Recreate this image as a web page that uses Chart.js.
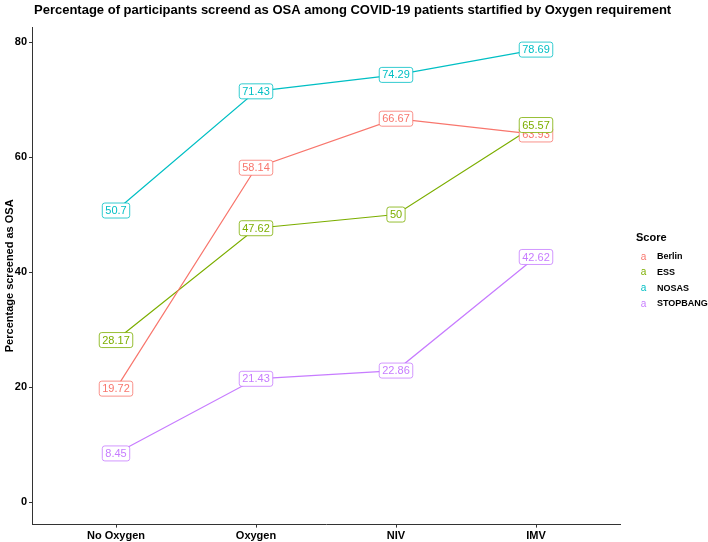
<!DOCTYPE html>
<html>
<head>
<meta charset="utf-8">
<script src="https://cdn.jsdelivr.net/npm/chart.js@4.4.0/dist/chart.umd.min.js"></script>
<style>
  html, body { margin: 0; padding: 0; background: #fff; }
  #wrap { width: 708px; height: 542px; position: relative; }
</style>
</head>
<body>
<div id="wrap"><canvas id="osa-chart"></canvas></div>
<script>
const categories = ["No Oxygen", "Oxygen", "NIV", "IMV"];
const berlin = [19.72, 58.14, 66.67, 63.93];
const ess = [28.17, 47.62, 50, 65.57];
const nosas = [50.7, 71.43, 74.29, 78.69];
const stopbang = [8.45, 21.43, 22.86, 42.62];
const yTicks = [0, 20, 40, 60, 80];

const seriesNames = ["Berlin", "ESS", "NOSAS", "STOPBANG"];
const seriesColors = ["#F8766D", "#7CAE00", "#00BFC4", "#C77CFF"];
const FONT = "'Liberation Sans', Arial, sans-serif";

function toPoints(arr) {
  return arr.map((v, i) => ({ x: i, y: v }));
}

// title drawn at the left edge of the panel like ggplot
const titlePlugin = {
  id: "ggTitle",
  afterDraw(chart) {
    const ctx = chart.ctx;
    ctx.save();
    ctx.font = "bold 13px " + FONT;
    ctx.fillStyle = "#000";
    ctx.textBaseline = "middle";
    ctx.textAlign = "left";
    ctx.fillText("Percentage of participants screend as OSA among COVID-19 patients startified by Oxygen requirement", 34, 10);
    ctx.restore();
  }
};

// geom_label style boxes on every point
const labelPlugin = {
  id: "pointLabels",
  afterDatasetsDraw(chart) {
    const ctx = chart.ctx;
    ctx.save();
    ctx.font = "11px " + FONT;
    ctx.textAlign = "center";
    ctx.textBaseline = "middle";
    chart.data.datasets.forEach((ds, di) => {
      const meta = chart.getDatasetMeta(di);
      meta.data.forEach((pt, i) => {
        const txt = String(ds.data[i].y);
        const w = ctx.measureText(txt).width + 6;
        const h = 15;
        const x = pt.x - w / 2, y = pt.y - h / 2;
        ctx.beginPath();
        ctx.roundRect(x, y, w, h, 2.5);
        ctx.fillStyle = "#fff";
        ctx.fill();
        ctx.lineWidth = 0.8;
        ctx.strokeStyle = ds.borderColor;
        ctx.stroke();
        ctx.fillStyle = ds.borderColor;
        ctx.fillText(txt, pt.x, pt.y + 0.5);
      });
    });
    ctx.restore();
  }
};

const legendPlugin = {
  id: "ggLegend",
  afterDraw(chart) {
    const ctx = chart.ctx;
    ctx.save();
    ctx.textBaseline = "middle";
    ctx.textAlign = "left";
    ctx.font = "bold 11px " + FONT;
    ctx.fillStyle = "#000";
    ctx.fillText("Score", 636, 238);
    chart.data.datasets.forEach((ds, i) => {
      const y = 257 + i * 15.6;
      ctx.font = "10px " + FONT;
      ctx.fillStyle = ds.borderColor;
      ctx.textAlign = "center";
      ctx.fillText("a", 643.5, y);
      ctx.font = "bold 9px " + FONT;
      ctx.fillStyle = "#000";
      ctx.textAlign = "left";
      ctx.fillText(ds.label, 657, y);
    });
    ctx.restore();
  }
};

new Chart(document.getElementById("osa-chart"), {
  type: "line",
  data: {
    datasets: [
      { label: seriesNames[0], data: toPoints(berlin), borderColor: seriesColors[0] },
      { label: seriesNames[1], data: toPoints(ess), borderColor: seriesColors[1] },
      { label: seriesNames[2], data: toPoints(nosas), borderColor: seriesColors[2] },
      { label: seriesNames[3], data: toPoints(stopbang), borderColor: seriesColors[3] },
    ],
  },
  options: {
    responsive: true,
    maintainAspectRatio: false,
    animation: false,
    layout: { padding: { top: 27, right: 88, left: 0, bottom: 0 } },
    elements: {
      line: { borderWidth: 1.2, tension: 0, fill: false },
      point: { radius: 0, hoverRadius: 0 },
    },
    plugins: {
      legend: { display: false },
      title: { display: false },
      tooltip: { enabled: false },
    },
    scales: {
      x: {
        type: "linear",
        min: -0.6,
        max: 3.6,
        afterBuildTicks(scale) {
          scale.ticks = categories.map((c, i) => ({ value: i }));
        },
        afterFit(scale) { scale.height = 17.4; },
        ticks: {
          callback: (v) => categories[v],
          color: "#000",
          font: { family: FONT, size: 11, weight: "bold" },
          padding: 2,
          maxRotation: 0,
        },
        grid: { drawOnChartArea: false, drawTicks: true, tickLength: 3, color: "#333" },
        border: { display: true, color: "#333", width: 1 },
      },
      y: {
        min: -3.93,
        max: 82.62,
        afterBuildTicks(scale) {
          scale.ticks = yTicks.map((v) => ({ value: v }));
        },
        afterFit(scale) { scale.width = 32; },
        ticks: {
          color: "#000",
          font: { family: FONT, size: 11, weight: "bold" },
          padding: 2,
        },
        grid: { drawOnChartArea: false, drawTicks: true, tickLength: 3, color: "#333" },
        border: { display: true, color: "#333", width: 1 },
        title: {
          display: true,
          text: "Percentage screened as OSA",
          color: "#000",
          font: { family: FONT, size: 11, weight: "bold" },
          padding: { top: 3, bottom: 0 },
        },
      },
    },
  },
  plugins: [titlePlugin, labelPlugin, legendPlugin],
});
</script>
</body>
</html>
